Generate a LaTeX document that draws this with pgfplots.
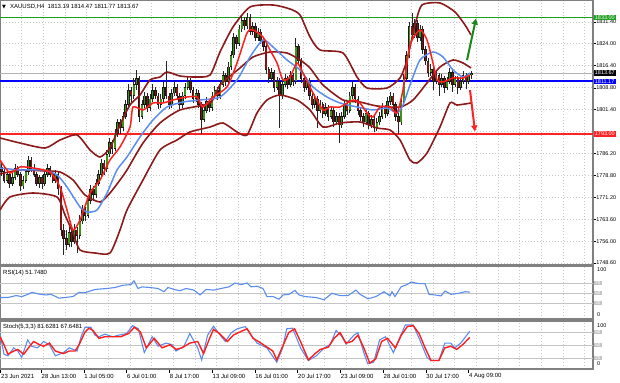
\documentclass[border=0pt]{standalone}
\usepackage{fontspec}
\setmainfont{Liberation Sans}
\newfontfamily\dejavu{DejaVu Sans}
\usepackage{pgfplots}
\pgfplotsset{compat=1.18}
\usepackage{pgfplotstable}
\usetikzlibrary{arrows.meta}
\definecolor{bull}{HTML}{3A9418}
\definecolor{bear}{HTML}{861212}
\definecolor{bband}{HTML}{8B1A1A}
\definecolor{mared}{HTML}{FF1E1E}
\definecolor{mablue}{HTML}{5B8DEF}
\definecolor{lgreen}{HTML}{1E9E1E}
\definecolor{lblue}{HTML}{0000FF}
\definecolor{lred}{HTML}{FF2222}
\definecolor{gridc}{HTML}{C8C8C8}
\definecolor{framec}{HTML}{808080}
\definecolor{lvlc}{HTML}{C4C4C4}
\newcommand\sm{\fontsize{6}{7}\selectfont}
\newcommand\pr{\fontsize{5.5}{6}\selectfont}
\pgfplotstableread{
i o h l c
0 1781.5 1783 1778.5 1780
1 1780 1781.5 1776 1777
2 1777 1780.5 1776 1779
3 1779 1780 1774.5 1776
4 1776 1779.5 1775 1778
5 1778 1782.5 1777 1781
6 1781 1782 1778 1779
7 1779 1780 1773.5 1775
8 1775 1778.5 1774 1777
9 1777 1781 1776 1780
10 1780 1785.5 1779 1784
11 1784 1785 1780 1781
12 1781 1782.5 1778 1779
13 1779 1780 1775 1776
14 1776 1779 1774.5 1778
15 1778 1779 1774 1776
16 1776 1780 1775 1779
17 1779 1782.5 1778 1781
18 1781 1782 1778 1779
19 1779 1780 1776 1777
20 1777 1780.5 1776 1779
21 1779 1780 1772 1774
22 1774 1775 1758 1760
23 1760 1762 1751.5 1757
24 1757 1760 1753 1755
25 1755 1761 1754 1759
26 1759 1760 1754 1756
27 1756 1762 1755 1760
28 1760 1761 1752 1758
29 1758 1765 1757 1763
30 1763 1768.5 1762 1767
31 1767 1768 1763 1765
32 1765 1771.5 1764 1770
33 1770 1775.5 1769 1774
34 1774 1775 1770 1772
35 1772 1777.5 1771 1776
36 1776 1780.5 1775 1779
37 1779 1784.5 1778 1783
38 1783 1784 1779 1781
39 1781 1787.5 1780 1786
40 1786 1791.5 1785 1790
41 1790 1791 1786 1788
42 1788 1794.5 1787 1793
43 1793 1798 1792 1797
44 1797 1798 1793 1795
45 1795 1800.5 1794 1799
46 1799 1804.5 1798 1803
47 1803 1810 1802 1808
48 1808 1809 1804 1806
49 1806 1812 1805 1810
50 1810 1815 1808 1812
51 1812 1813 1797 1799
52 1799 1804.5 1798 1803
53 1803 1807.5 1802 1806
54 1806 1807 1800.5 1802
55 1802 1806.5 1801 1805
56 1805 1810 1804 1808
57 1808 1809 1805 1806
58 1806 1807 1801.5 1803
59 1803 1806.5 1802 1805
60 1805 1811 1804 1809
61 1809 1818 1805 1806
62 1806 1807 1801.5 1803
63 1803 1808.5 1802 1807
64 1807 1811 1806 1809
65 1809 1810 1804.5 1806
66 1806 1807 1801 1803
67 1803 1807.5 1802 1806
68 1806 1810.5 1805 1809
69 1809 1813 1808 1811
70 1811 1812 1807 1808
71 1808 1809 1803.5 1805
72 1805 1808.5 1804 1807
73 1807 1808 1802 1803
74 1803 1804 1793 1798
75 1798 1802.5 1797 1801
76 1801 1805.5 1800 1804
77 1804 1805 1800.5 1802
78 1802 1807.5 1801 1806
79 1806 1809.5 1805 1808
80 1808 1809 1804.5 1806
81 1806 1811.5 1805 1810
82 1810 1814.5 1809 1813
83 1813 1814 1809.5 1811
84 1811 1817.5 1810 1816
85 1816 1821.5 1815 1820
86 1820 1827.5 1819 1826
87 1826 1827 1822 1824
88 1824 1830.5 1823 1829
89 1829 1833.5 1828 1832
90 1832 1833 1828.5 1830
91 1830 1834.5 1829 1833
92 1833 1834 1827 1828
93 1828 1831.5 1827 1830
94 1830 1831 1825 1826
95 1826 1829.5 1825 1828
96 1828 1829 1824 1825
97 1825 1826 1821.5 1823
98 1823 1824 1813.5 1815
99 1815 1816 1810.5 1812
100 1812 1815.5 1811 1814
101 1814 1815 1807.5 1809
102 1809 1812.5 1808 1811
103 1811 1812 1795 1806
104 1806 1811.5 1805 1810
105 1810 1813.5 1809 1812
106 1812 1813 1808.5 1810
107 1810 1814.5 1809 1813
108 1813 1814 1809.5 1811
109 1811 1826 1810 1823
110 1823 1824 1816.5 1818
111 1818 1819 1810.5 1812
112 1812 1813 1807.5 1809
113 1809 1812.5 1808 1811
114 1811 1812 1804.5 1806
115 1806 1807 1801.5 1803
116 1803 1806.5 1802 1805
117 1805 1806 1795 1801
118 1801 1804.5 1800 1803
119 1803 1804 1798.5 1800
120 1800 1803.5 1799 1802
121 1802 1803 1797.5 1799
122 1799 1802.5 1798 1801
123 1801 1802 1795.5 1797
124 1797 1800.5 1796 1799
125 1799 1800 1790 1796
126 1796 1800.5 1795 1799
127 1799 1804.5 1798 1803
128 1803 1804 1799.5 1801
129 1801 1807.5 1800 1806
130 1806 1811 1805 1809
131 1809 1810 1803.5 1805
132 1805 1806 1799.5 1801
133 1801 1802 1797.5 1799
134 1799 1800 1795.5 1797
135 1797 1801.5 1796 1800
136 1800 1801 1794.5 1796
137 1796 1799.5 1795 1798
138 1798 1799 1793.5 1795
139 1795 1798.5 1794 1797
140 1797 1800.5 1796 1799
141 1799 1803.5 1798 1802
142 1802 1803 1798.5 1800
143 1800 1805.5 1799 1804
144 1804 1807.5 1803 1806
145 1806 1807 1801.5 1803
146 1803 1804 1797.5 1799
147 1799 1800 1793 1797
148 1797 1805.5 1796 1804
149 1804 1813.5 1803 1812
150 1812 1821.5 1811 1820
151 1820 1831.5 1819 1830
152 1830 1834.5 1825.5 1827
153 1827 1832.5 1826 1831
154 1831 1832 1824.5 1826
155 1826 1830.5 1825 1829
156 1829 1830 1820.5 1822
157 1822 1823 1816.5 1818
158 1818 1819 1812.5 1814
159 1814 1817 1813 1815
160 1815 1816 1808 1811
161 1811 1814.5 1810 1813
162 1813 1814 1806 1810
163 1810 1813.5 1809 1812
164 1812 1813 1807 1809
165 1809 1812.5 1808 1811
166 1811 1815.5 1810 1814
167 1814 1815 1807.5 1810
168 1810 1813 1809 1812
169 1812 1813 1806.5 1809
170 1809 1812.5 1808 1811
171 1811 1814.5 1810 1813
172 1813 1814 1808.5 1811
173 1811 1814 1810 1813.19
174 1813.19 1814.47 1811.77 1813.67
}\candles
\pgfplotsset{
  mtgrid/.style={
    scale only axis, width=593bp, xmin=0, xmax=593,
    axis line style={draw=framec, line width=1.5bp},
    xtick={21.65,43.3,64.95,86.6,108.25,129.9,151.55,173.2,194.85,216.5,238.15,259.8,281.45,303.1,324.75,346.4,368.05,389.7,411.35,433,454.65,476.3,497.95,519.6,541.25,562.9,584.55},
    xticklabels={}, xtick style={draw=none},
    xmajorgrids, major grid style={draw=gridc, line width=0.6bp, dash pattern=on 1bp off 2bp},
    clip mode=individual,
  }
}
\begin{document}
\begin{tikzpicture}
\path[use as bounding box] (0,0) rectangle (620bp,-383bp);
% ---------------- main price pane
\begin{axis}[mtgrid, at={(0bp,0bp)}, anchor=north west, height=265bp,
  ymin=1747.93, ymax=1838.96,
  ytick={1748.6,1756.0,1763.6,1771.2,1778.8,1786.2,1793.8,1801.4,1808.8,1816.4,1824.0,1831.4},
  yticklabels={1748.60,1756.00,1763.60,1771.20,1778.80,1786.20,,1801.40,1808.80,1816.40,1824.00,1831.40},
  ytick pos=right, yticklabel pos=right, tick align=outside, major tick length=2.5bp,
  ytick style={draw=black, line width=0.5bp},
  yticklabel style={font=\pr, anchor=west, inner sep=0.6bp},
  ymajorgrids]
% horizontal levels
\addplot[lgreen, line width=1.1bp] coordinates {(0,1833.0) (593,1833.0)};
\addplot[lblue, line width=1.5bp] coordinates {(0,1811.17) (593,1811.17)};
\addplot[lred, line width=1.5bp] coordinates {(0,1793.0) (593,1793.0)};
\addplot[gray!60, line width=0.5bp] coordinates {(0,1813.67) (593,1813.67)};
% wicks
\addplot[draw=none, mark=none, error bars/.cd, y dir=plus, y explicit, error mark=none,
  error bar style={draw=black!85, line width=0.7bp}]
  table[x expr=\thisrow{i}*2.7+1.5, y=l, y error plus expr=\thisrow{h}-\thisrow{l}] \candles;
% body outlines
\addplot[draw=none, mark=none, error bars/.cd, y dir=plus, y explicit, error mark=none,
  error bar style={draw=black!90, line width=2.5bp}]
  table[x expr=\thisrow{i}*2.7+1.5, y expr={min(\thisrow{o},\thisrow{c})-0.1}, y error plus expr={abs(\thisrow{c}-\thisrow{o})+0.2}] \candles;
% bullish bodies
\addplot[draw=none, mark=none, restrict expr to domain={\thisrow{c}-\thisrow{o}}{0.4:200},
  error bars/.cd, y dir=plus, y explicit, error mark=none,
  error bar style={draw=bull, line width=1.4bp}]
  table[x expr=\thisrow{i}*2.7+1.5, y expr=\thisrow{o}+0.17, y error plus expr=\thisrow{c}-\thisrow{o}-0.34] \candles;
% bearish bodies
\addplot[draw=none, mark=none, restrict expr to domain={\thisrow{o}-\thisrow{c}}{0.4:200},
  error bars/.cd, y dir=plus, y explicit, error mark=none,
  error bar style={draw=bear, line width=1.4bp}]
  table[x expr=\thisrow{i}*2.7+1.5, y expr=\thisrow{c}+0.17, y error plus expr=\thisrow{o}-\thisrow{c}-0.34] \candles;
% Bollinger bands
\addplot[bband, line width=1.6bp, smooth, tension=0.4] coordinates {(0,1791.56)(20,1789.84)(45,1788.12)(60,1790.87)(77,1792.59)(90,1787.44)(100,1785.03)(110,1788.12)(120,1796.02)(130,1802.89)(140,1806.33)(150,1811.48)(160,1812.51)(167,1814.23)(180,1812.85)(195,1812.51)(210,1813.20)(220,1821.10)(233,1829.69)(250,1836.56)(273,1837.24)(290,1835.87)(300,1833.81)(310,1826.25)(320,1821.79)(343,1820.75)(357,1812.51)(367,1808.73)(387,1808.73)(400,1812.17)(407,1818.35)(415,1830.37)(422,1837.24)(440,1837.93)(455,1834.84)(465,1830.37)(471,1826.94)};
\addplot[bband, line width=1.6bp, smooth, tension=0.4] coordinates {(0,1779.19)(20,1780.57)(45,1780.22)(60,1779.88)(73,1777.13)(85,1771.98)(100,1769.57)(110,1772.66)(120,1777.13)(127,1780.57)(143,1789.84)(160,1796.71)(180,1801.18)(210,1803.58)(220,1809.76)(240,1815.60)(253,1819.38)(270,1821.10)(287,1820.75)(300,1818.35)(310,1815.60)(323,1809.76)(343,1804.61)(360,1803.92)(377,1802.55)(400,1802.21)(413,1804.61)(427,1810.45)(440,1815.95)(453,1818.35)(463,1817.32)(471,1815.60)};
\addplot[bband, line width=1.6bp, smooth, tension=0.4] coordinates {(0,1766.83)(10,1771.29)(33,1772.66)(57,1771.29)(65,1765.11)(73,1758.92)(80,1753.09)(95,1752.06)(110,1752.06)(120,1759.96)(127,1766.83)(143,1777.13)(160,1787.44)(177,1790.87)(190,1793.62)(210,1795.33)(223,1796.71)(237,1793.62)(247,1792.59)(257,1800.15)(267,1804.61)(280,1806.33)(297,1804.61)(310,1801.18)(323,1795.33)(340,1796.71)(360,1797.05)(377,1794.99)(390,1794.31)(400,1790.87)(410,1784.00)(417,1782.97)(427,1786.40)(440,1795.33)(450,1803.58)(457,1802.89)(471,1803.58)};
% moving averages
\addplot[mablue, line width=1.5bp, smooth, tension=0.4] coordinates {(0,1781.25)(20,1780.57)(43,1780.57)(57,1778.85)(67,1774.73)(80,1767.85)(87,1766.14)(97,1766.83)(107,1772.66)(117,1780.57)(127,1785.03)(140,1791.90)(153,1797.74)(167,1802.21)(183,1803.92)(200,1804.61)(220,1805.64)(237,1811.48)(250,1819.38)(263,1825.22)(273,1822.82)(287,1818.35)(300,1814.92)(313,1809.08)(327,1805.64)(340,1803.58)(357,1802.21)(373,1801.18)(387,1801.86)(397,1800.15)(403,1802.89)(410,1809.76)(420,1818.35)(433,1821.10)(443,1819.38)(453,1814.92)(463,1812.51)(470,1813.89)};
\addplot[mared, line width=1.5bp, smooth, tension=0.4] coordinates {(0,1784.00)(10,1779.53)(20,1781.60)(33,1781.25)(50,1779.88)(60,1774.73)(67,1766.83)(73,1759.96)(80,1763.39)(90,1772.66)(100,1777.13)(110,1784.00)(120,1788.47)(130,1795.33)(133,1802.21)(143,1801.18)(153,1803.58)(163,1803.58)(173,1804.61)(187,1805.64)(197,1805.64)(203,1802.21)(213,1805.64)(227,1809.08)(237,1817.32)(247,1827.62)(253,1828.66)(263,1826.25)(270,1821.79)(277,1817.32)(283,1811.48)(290,1812.51)(297,1817.32)(303,1813.89)(313,1807.01)(323,1801.18)(330,1802.21)(340,1802.21)(353,1804.61)(360,1803.58)(367,1800.15)(373,1798.77)(380,1802.21)(390,1802.21)(397,1800.15)(403,1808.05)(410,1823.50)(420,1828.66)(427,1825.22)(433,1817.32)(437,1811.48)(443,1810.79)(453,1812.17)(463,1812.17)(470,1813.20)};
% arrows
\addplot[lgreen!85!black, line width=2bp, -{Triangle[length=6bp,width=6bp]}] coordinates {(467,1818.3) (476,1832.6)};
\addplot[lred, line width=2bp, -{Triangle[length=6bp,width=6bp]}] coordinates {(470,1808.0) (475,1793.8)};
% price boxes
\node[fill=lgreen, text=white, font=\pr, inner xsep=1.2bp, inner ysep=0.9bp, anchor=west] at (axis cs:593.5,1833.0) {1833.00};
\node[fill=black, text=white, font=\pr, inner xsep=1.2bp, inner ysep=0.9bp, anchor=west] at (axis cs:593.5,1814.0) {1813.67};
\node[fill=lblue, text=white, font=\pr, inner xsep=1.2bp, inner ysep=0.9bp, anchor=west] at (axis cs:593.5,1811.0) {1811.17};
\node[fill=lred, text=white, font=\pr, inner xsep=1.2bp, inner ysep=0.9bp, anchor=west] at (axis cs:593.5,1793.0) {1793.00};
\end{axis}
% ---------------- RSI pane
\begin{axis}[mtgrid, at={(0bp,-266bp)}, anchor=north west, height=53bp,
  ymin=-2, ymax=104, ytick=\empty]
\addplot[lvlc, line width=0.8bp] coordinates {(0,70)(593,70)};
\addplot[lvlc, line width=0.8bp] coordinates {(0,50)(593,50)};
\addplot[lvlc, line width=0.8bp] coordinates {(0,30)(593,30)};
\addplot[mablue, line width=1.1bp] coordinates {(0,41)(8,41)(16,44.8)(22,42.9)(28,47.4)(32,51.3)(40,47.4)(46,46.1)(51,47.4)(59,39.7)(65,41)(73,42.9)(79,51.3)(85,50.6)(95,57.1)(107,59)(115,61)(123,65.5)(131,66.8)(134,74.5)(138,59)(142,62.3)(150,61)(158,59)(164,52.6)(168,61)(174,57.1)(180,54.5)(186,59)(194,55.8)(200,46.1)(206,57.1)(214,55.8)(221,59)(229,62.3)(235,70)(241,66.8)(247,70)(251,62.3)(257,63.6)(263,59)(267,42.9)(273,42.9)(279,37.7)(283,46.1)(289,47.4)(295,55.2)(299,46.1)(305,42.9)(316,41)(324,36.5)(332,49.4)(340,44.8)(348,44.8)(356,55.8)(360,47.4)(368,38.4)(376,42.9)(384,52.6)(390,44.2)(392,52.6)(395,42.9)(401,62.3)(407,66.8)(411,71.9)(419,68.7)(425,68.7)(429,47.4)(435,46.1)(441,44.2)(445,53.9)(451,47.4)(459,49.4)(465,52.6)(470,51.7)};
\end{axis}
% ---------------- Stochastic pane
\begin{axis}[mtgrid, at={(0bp,-321bp)}, anchor=north west, height=48bp,
  ymin=-5.3, ymax=105.3, ytick=\empty]
\addplot[lvlc, line width=0.8bp] coordinates {(0,80)(593,80)};
\addplot[lvlc, line width=0.8bp] coordinates {(0,50)(593,50)};
\addplot[lvlc, line width=0.8bp] coordinates {(0,20)(593,20)};
\addplot[mablue, line width=1.1bp] coordinates {(0,76.3)(4,28.8)(7.9,25.1)(13.8,43.4)(17.8,36.1)(21.7,21.5)(27.7,61.7)(31.6,47.1)(37.6,43.4)(43.5,58.1)(49.4,50.7)(55.4,25.1)(63.3,32.4)(69.2,43.4)(77.1,36.1)(81.1,69.0)(85,91.0)(90.9,91.0)(94.9,72.7)(98.9,69.0)(104.8,74.9)(112.7,69.0)(118.6,72.7)(126.5,76.3)(132.5,94.6)(138.4,87.3)(144.3,32.4)(152.2,69.0)(158.2,47.1)(166.1,54.4)(172,50.7)(176,36.1)(183.9,47.1)(189.8,76.3)(197.7,43.4)(201.7,15.6)(207.6,72.7)(213.5,93.2)(221.4,69.0)(225.4,58.1)(231.3,78.5)(237.2,87.3)(245.2,92.4)(251.1,72.7)(257,54.4)(266.9,43.4)(276.8,10.5)(282.7,43.4)(286.7,87.3)(292.6,88.8)(300.5,43.4)(308.4,14.2)(316.3,25.1)(324.2,43.4)(330.2,50.7)(336.1,83.7)(342,69.0)(346,52.2)(353.9,72.7)(357.9,78.5)(363.8,32.4)(367.7,6.8)(373.7,10.5)(379.6,61.7)(385.5,69.0)(393.4,32.4)(399.4,65.4)(405.3,96.1)(413.2,96.1)(419.1,65.4)(427,21.5)(431,14.2)(438.9,14.2)(444.8,54.4)(450.8,54.4)(454.7,43.4)(460.7,54.4)(469.8,81.6)};
\addplot[mared, line width=1.4bp] coordinates {(0,69.0)(4,50.7)(7.9,28.8)(13.8,36.1)(17.8,39.8)(23.7,28.8)(29.7,47.1)(33.6,58.1)(39.5,50.7)(43.5,47.1)(49.4,54.4)(55.4,36.1)(63.3,30.3)(69.2,36.1)(75.1,36.1)(79.1,50.7)(85,80)(89,88.8)(92.9,83.7)(98.9,65.4)(104.8,69.0)(112.7,69.0)(120.6,69.0)(128.5,76.3)(134.4,91.0)(140.4,80)(146.3,43.4)(154.2,65.4)(162.1,43.4)(170,50.7)(176,39.8)(181.9,43.4)(189.8,54.4)(197.7,58.1)(203.6,30.3)(209.6,65.4)(213.5,85.9)(219.5,76.3)(227.4,58.1)(233.3,72.7)(241.2,81.5)(247.1,87.3)(253.1,65.4)(261,54.4)(272.8,36.1)(276.8,15.6)(282.7,47.1)(288.7,78.5)(294.6,87.3)(300.5,58.1)(308.4,15.6)(314.4,28.8)(320.3,39.8)(328.2,44.9)(334.1,65.4)(340.1,78.5)(346,54.4)(351.9,58.1)(357.9,72.7)(363.8,43.4)(369.7,8.3)(375.6,17.8)(381.6,58.1)(387.5,65.4)(395.4,43.4)(401.3,72.7)(407.3,92.4)(413.2,94.6)(419.1,76.3)(425.1,43.4)(431,14.2)(438.9,14.2)(444.8,43.4)(450.8,47.1)(456.7,39.8)(462.6,50.7)(469.8,67.6)};
\end{axis}
% ---------------- texts
\node[anchor=west, inner sep=0] at (2bp,-7bp) {\dejavu\fontsize{5}{6}\selectfont ▼};
\node[anchor=west, inner sep=0, font=\sm] at (10bp,-7bp) {XAUUSD,H4\ \ 1813.19 1814.47 1811.77 1813.67};
\node[anchor=west, inner sep=0, font=\sm] at (3bp,-272.5bp) {RSI(14) 51.7480};
\node[anchor=west, inner sep=0, font=\sm] at (3bp,-327bp) {Stoch(5,3,3) 81.6281 67.6481};
% right labels of sub-windows
\node[anchor=west, inner sep=0, font=\pr] at (597bp,-270bp) {100};
\node[anchor=west, inner sep=0, font=\pr] at (597bp,-315bp) {0};
\node[anchor=west, inner sep=0, font=\pr] at (597bp,-325.5bp) {100};
\node[anchor=west, inner sep=0, font=\pr] at (597bp,-364bp) {0};
\foreach \yy/\tt in {283/70,293/50,303/30,332/80,345/50,358/20}{
  \node[anchor=west, fill=lvlc, text=white, inner xsep=1.2bp, inner ysep=0.8bp, font=\fontsize{4.5}{5}\selectfont] at (594bp,-\yy bp) {\tt};
}
% date labels
\foreach \xx/\tt in {1/23 Jun 2021,41.5/28 Jun 13:00,84.25/1 Jul 05:00,127/6 Jul 01:00,169.75/8 Jul 17:00,212.5/13 Jul 09:00,255.25/16 Jul 01:00,298/20 Jul 17:00,340.75/23 Jul 09:00,383.5/28 Jul 01:00,426.25/30 Jul 17:00,469/4 Aug 09:00}{
  \node[anchor=west, inner sep=0, font=\sm] at (\xx bp,-376bp) {\tt};
  \draw[black, line width=0.4bp] (\xx bp-0.5bp,-370bp) -- (\xx bp-0.5bp,-372.5bp);
}
\end{tikzpicture}
\end{document}
